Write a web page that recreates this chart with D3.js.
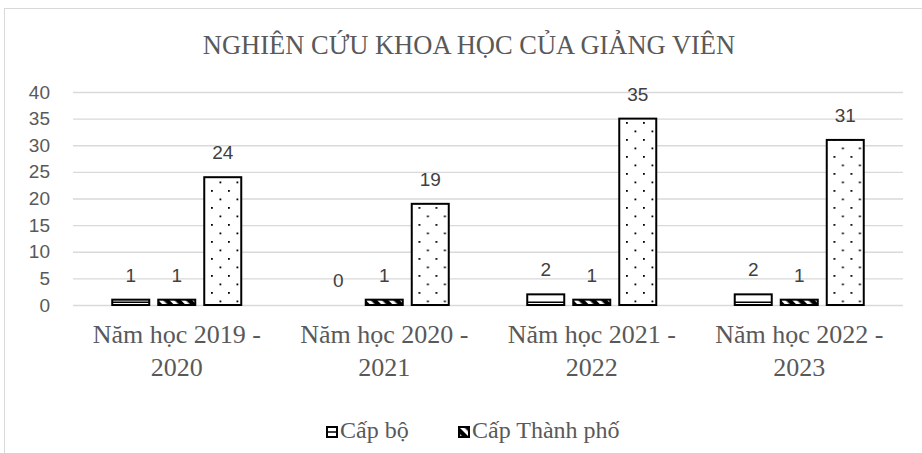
<!DOCTYPE html>
<html>
<head>
<meta charset="utf-8">
<script src="https://cdn.jsdelivr.net/npm/d3@7"></script>
<style>
  body { margin: 0; background: #fff; }
  svg text { fill: #595959; }
</style>
</head>
<body>
<svg id="chart" width="922" height="453"></svg>
<script>

var categories = [
	["Năm học 2019 -", "2020"],
	["Năm học 2020 -", "2021"],
	["Năm học 2021 -", "2022"],
	["Năm học 2022 -", "2023"]];

var seriesNames = ["Cấp bộ", "Cấp Thành phố", "Cấp cơ sở"];
var capBo = [1, 0, 2, 2];
var capThanhPho = [1, 1, 1, 1];
var capCoSo = [24, 19, 35, 31];
var yTicks = [0, 5, 10, 15, 20, 25, 30, 35, 40];

var seriesValues = [capBo, capThanhPho, capCoSo];
var legendNames = seriesNames.slice(0, 2);

var svg = d3.select("#chart");

// outer frame of the chart area
svg.append("rect")
	.attr("x", 4.5).attr("y", 8.5)
	.attr("width", 940).attr("height", 460)
	.attr("fill", "none")
	.attr("stroke", "#d9d9d9");

// fill patterns
var defs = svg.append("defs");

var pHoriz = defs.append("pattern")
	.attr("id", "pat0").attr("patternUnits", "userSpaceOnUse")
	.attr("width", 8).attr("height", 8);
pHoriz.append("rect").attr("width", 8).attr("height", 8).attr("fill", "#fff");
pHoriz.append("rect").attr("y", 5.5).attr("width", 8).attr("height", 1.5).attr("fill", "#000");

var pDiag = defs.append("pattern")
	.attr("id", "pat1").attr("patternUnits", "userSpaceOnUse")
	.attr("width", 8).attr("height", 8)
	.attr("patternTransform", "rotate(45)");
pDiag.append("rect").attr("width", 8).attr("height", 8).attr("fill", "#fff");
pDiag.append("rect").attr("width", 8).attr("height", 4.5).attr("fill", "#000");

var pDots = defs.append("pattern")
	.attr("id", "pat2").attr("patternUnits", "userSpaceOnUse")
	.attr("width", 17).attr("height", 17)
	.attr("x", 2).attr("y", 3);
pDots.append("rect").attr("width", 17).attr("height", 17).attr("fill", "#fff");
pDots.append("rect").attr("x", 0).attr("y", 0).attr("width", 1.8).attr("height", 1.8).attr("fill", "#000");
pDots.append("rect").attr("x", 8.5).attr("y", 8.5).attr("width", 1.8).attr("height", 1.8).attr("fill", "#000");

// title
svg.append("text")
	.attr("x", 469).attr("y", 54)
	.attr("text-anchor", "middle")
	.style("font-family", "'Liberation Serif', 'Times New Roman', serif")
	.style("font-size", "26.5px")
	.text("NGHIÊN CỨU KHOA HỌC CỦA GIẢNG VIÊN");

// scales
var x0 = d3.scaleBand()
	.domain(d3.range(categories.length))
	.range([73, 903]);

var x1 = d3.scaleBand()
	.domain(d3.range(seriesNames.length))
	.range([0, x0.bandwidth()])
	.paddingInner(9 / 46)
	.paddingOuter(0.853);

var y = d3.scaleLinear().domain([0, 40]).range([305, 92]);

// gridlines + y labels
var yAxis = d3.axisLeft(y)
	.tickValues(yTicks)
	.tickSize(-(903 - 73))
	.tickPadding(23);

var gy = svg.append("g")
	.attr("transform", "translate(73,0)")
	.call(yAxis);
gy.select(".domain").remove();
gy.selectAll(".tick line").attr("stroke", "#d9d9d9").attr("stroke-width", 1.3);
gy.selectAll(".tick text")
	.attr("fill", "#595959")
	.style("font-family", "'Liberation Sans', Arial, sans-serif")
	.style("font-size", "19px");

// bars
var groups = svg.selectAll(".cat")
	.data(categories)
	.enter().append("g")
	.attr("class", "cat")
	.attr("transform", function(d, i) { return "translate(" + x0(i) + ",0)"; });

groups.each(function(cat, ci) {
	var g = d3.select(this);
	seriesValues.forEach(function(vals, si) {
		var v = vals[ci];
		if (v > 0) {
			g.append("rect")
				.attr("x", x1(si))
				.attr("y", y(v))
				.attr("width", x1.bandwidth())
				.attr("height", y(0) - y(v))
				.attr("fill", "url(#pat" + si + ")")
				.attr("stroke", "#000")
				.attr("stroke-width", 2);
		}
		g.append("text")
			.attr("x", x1(si) + x1.bandwidth() / 2)
			.attr("y", y(v) - 18)
			.attr("text-anchor", "middle")
			.style("fill", "#404040")
			.style("font-family", "'Liberation Sans', Arial, sans-serif")
			.style("font-size", "19px")
			.text(v);
	});
});

// category labels
groups.each(function(cat, ci) {
	var t = d3.select(this).append("text")
		.attr("x", x0.bandwidth() / 2)
		.attr("y", 343)
		.attr("text-anchor", "middle")
		.style("font-family", "'Liberation Serif', 'Times New Roman', serif")
		.style("font-size", "26px");
	cat.forEach(function(line, li) {
		t.append("tspan")
			.attr("x", x0.bandwidth() / 2)
			.attr("dy", li == 0 ? 0 : 33)
			.text(line);
	});
});

// legend
var legendX = [326, 458];
var legend = svg.selectAll(".leg")
	.data(legendNames)
	.enter().append("g")
	.attr("class", "leg")
	.attr("transform", function(d, i) { return "translate(" + legendX[i] + ",426)"; });

legend.append("rect")
	.attr("x", 1).attr("y", 1)
	.attr("width", 10).attr("height", 10)
	.attr("fill", function(d, i) { return i == 0 ? "#fff" : "url(#pat1)"; })
	.attr("stroke", "#000")
	.attr("stroke-width", 2);

// the horizontal-stripe icon shows one line across its middle
legend.filter(function(d, i) { return i == 0; })
	.append("line")
	.attr("x1", 1).attr("x2", 11)
	.attr("y1", 6).attr("y2", 6)
	.attr("stroke", "#000")
	.attr("stroke-width", 1.5);

legend.append("text")
	.attr("x", 14).attr("y", 12)
	.style("font-family", "'Liberation Serif', 'Times New Roman', serif")
	.style("font-size", "24px")
	.text(function(d) { return d; });

</script>
</body>
</html>
